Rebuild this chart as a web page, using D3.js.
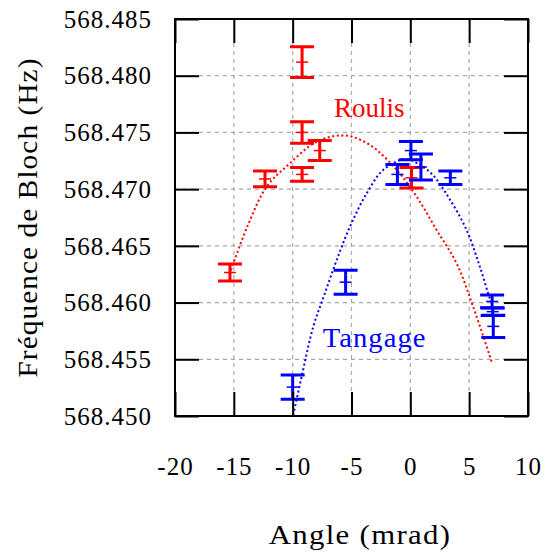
<!DOCTYPE html>
<html>
<head>
<meta charset="utf-8">
<script src="https://cdn.jsdelivr.net/npm/d3@7"></script>
<style>
  html, body { margin: 0; padding: 0; background: #fff; }
  svg { display: block; }
  svg text { font-family: "Liberation Serif", "Tinos", "Noto Serif", "DejaVu Serif", "FreeSerif", "Nimbus Roman", "Times New Roman", Times, serif; }
</style>
</head>
<body>
<svg id="chart" width="545" height="554"></svg>
<script>
// ---- Data ----
const xTicks = [-20, -15, -10, -5, 0, 5, 10];
const yTicks = [568.450, 568.455, 568.460, 568.465, 568.470, 568.475, 568.480, 568.485];

// Roulis (red) measurements
const roulisX   = [-15.33, -12.35, -9.2, -9.2, -9.2, -7.7, 0.1];
const roulisY   = [568.46265, 568.4709, 568.4812, 568.4750, 568.4713, 568.4734, 568.4710];
const roulisErr = [0.00075, 0.0007, 0.00135, 0.00095, 0.0006, 0.00088, 0.0009];

// Tangage (blue) measurements
const tangageX   = [-10.0, -5.5, -1.1, 0.05, 0.9, 3.4, 6.95, 7.0, 7.05];
const tangageY   = [568.45255, 568.4618, 568.4713, 568.4734, 568.47195, 568.4710, 568.4601, 568.4592, 568.4579];
const tangageErr = [0.00107, 0.00106, 0.00088, 0.0008, 0.00115, 0.0006, 0.00056, 0.00033, 0.00099];

// Fitted curves (dotted)
const roulisFitX = [-15.24, -13.86, -12.21, -10.23, -7.96, -5.56, -3.43, -1.16, 0.54, 2.23, 3.93, 5.34, 6.91];
const roulisFitY = [568.46287, 568.46669, 568.47021, 568.47228, 568.47418, 568.47473, 568.47389, 568.47169, 568.46933, 568.4664, 568.46346, 568.45963, 568.45478];
const tangageFitX = [-9.95, -9.24, -8.25, -7.26, -6.26, -5.13, -3.71, -2.3, -0.46, 0.59, 1.86, 3.3, 4.78, 5.91, 6.76, 7.02];
const tangageFitY = [568.45009, 568.45346, 568.45787, 568.46082, 568.46375, 568.46669, 568.46963, 568.47169, 568.47266, 568.47228, 568.47131, 568.46919, 568.4664, 568.46316, 568.46037, 568.45978];

const xLabel = "Angle (mrad)";
const yLabel = "Fréquence de Bloch (Hz)";
const seriesNames = ["Roulis", "Tangage"];

// ---- Layout ----
const mLeft = 175, mTop = 19, plotW = 353, plotH = 397;
const red = "#ff0000", blue = "#0000ff";

const svg = d3.select("#chart");
const x = d3.scaleLinear().domain([-20, 10]).range([mLeft, mLeft + plotW]);
const y = d3.scaleLinear().domain([568.450, 568.485]).range([mTop + plotH, mTop]);

// Grid
const grid = svg.append("g").attr("stroke", "#a8a8a8").attr("stroke-width", 1.2).attr("stroke-dasharray", "4,4");
grid.selectAll("line.v").data(xTicks.slice(1, -1)).join("line").attr("class", "v")
  .attr("x1", d => x(d)).attr("x2", d => x(d)).attr("y1", mTop).attr("y2", mTop + plotH);
grid.selectAll("line.h").data(yTicks.slice(1, -1)).join("line").attr("class", "h")
  .attr("x1", mLeft).attr("x2", mLeft + plotW).attr("y1", d => y(d)).attr("y2", d => y(d));

// Curves
svg.append("clipPath").attr("id", "clip").append("rect")
  .attr("x", mLeft).attr("y", mTop).attr("width", plotW).attr("height", plotH);
const line = d3.line().x(d => x(d[0])).y(d => y(d[1])).curve(d3.curveCatmullRom);
svg.append("path").datum(d3.zip(roulisFitX, roulisFitY)).attr("d", line)
  .attr("fill", "none").attr("stroke", red).attr("stroke-width", 2).attr("stroke-dasharray", "2,2.6")
  .attr("clip-path", "url(#clip)");
svg.append("path").datum(d3.zip(tangageFitX, tangageFitY)).attr("d", line)
  .attr("fill", "none").attr("stroke", blue).attr("stroke-width", 2).attr("stroke-dasharray", "2,2.6")
  .attr("clip-path", "url(#clip)");

// Error bars
function errorBars(xs, ys, es, color) {
  const data = xs.map((v, i) => ({x: v, y: ys[i], e: es[i]}));
  const g = svg.append("g").attr("stroke", color).attr("fill", "none");
  const cap = 12, mark = 6;
  g.selectAll("path.bar").data(data).join("path").attr("class", "bar")
    .attr("stroke-width", 3)
    .attr("d", d => {
      const cx = x(d.x), y1 = y(d.y + d.e), y2 = y(d.y - d.e);
      return `M${cx},${y1}V${y2}M${cx - cap},${y1}H${cx + cap}M${cx - cap},${y2}H${cx + cap}`;
    });
  g.selectAll("path.mark").data(data).join("path").attr("class", "mark")
    .attr("stroke-width", 1.5)
    .attr("d", d => `M${x(d.x) - mark},${y(d.y)}H${x(d.x) + mark}`);
}
errorBars(roulisX, roulisY, roulisErr, red);
errorBars(tangageX, tangageY, tangageErr, blue);

// Axes (ticks inside on all four sides)
function styleAxis(g) {
  g.attr("font-family", null);
  g.select(".domain").remove();
  g.selectAll(".tick line").attr("stroke", "#000").attr("stroke-width", 2);
  g.selectAll("text").attr("fill", "#000").attr("font-size", 25).attr("letter-spacing", "1px");
}
const gx = svg.append("g").attr("transform", `translate(0,${mTop + plotH})`)
  .call(d3.axisBottom(x).tickValues(xTicks).tickSize(-24).tickFormat(d => String(d)));
styleAxis(gx);
gx.selectAll("text").attr("y", 59).attr("dy", 0);

const gxt = svg.append("g").attr("transform", `translate(0,${mTop})`)
  .call(d3.axisTop(x).tickValues(xTicks).tickSize(-24).tickFormat(""));
styleAxis(gxt);

const gy = svg.append("g").attr("transform", `translate(${mLeft},0)`)
  .call(d3.axisLeft(y).tickValues(yTicks).tickSize(-24).tickFormat(d3.format(".3f")));
styleAxis(gy);
gy.selectAll("text").attr("x", -23).attr("dy", "0.33em");

const gyr = svg.append("g").attr("transform", `translate(${mLeft + plotW},0)`)
  .call(d3.axisRight(y).tickValues(yTicks).tickSize(-24).tickFormat(""));
styleAxis(gyr);

// Frame
svg.append("rect").attr("x", mLeft).attr("y", mTop).attr("width", plotW).attr("height", plotH)
  .attr("fill", "none").attr("stroke", "#000").attr("stroke-width", 2);

// Series labels
svg.append("text").attr("transform", `translate(${x(-6.49)},${y(568.47639)})`)
  .attr("fill", red).attr("font-size", 27)
  .text(seriesNames[0]);
svg.append("text").attr("transform", `translate(${x(-7.45)},${y(568.45611)}) scale(1.06,1)`)
  .attr("fill", blue).attr("font-size", 27).attr("letter-spacing", "1px")
  .text(seriesNames[1]);

// Axis titles
svg.append("text").attr("transform", "translate(360,544) scale(1.1,1)").attr("text-anchor", "middle")
  .attr("font-size", 28).attr("letter-spacing", "1.2px")
  .text(xLabel);
svg.append("text").attr("transform", `translate(37,${mTop + plotH / 2}) rotate(-90) scale(1.085,1)`)
  .attr("text-anchor", "middle").attr("font-size", 27).attr("letter-spacing", "1px")
  .text(yLabel);
</script>
</body>
</html>
